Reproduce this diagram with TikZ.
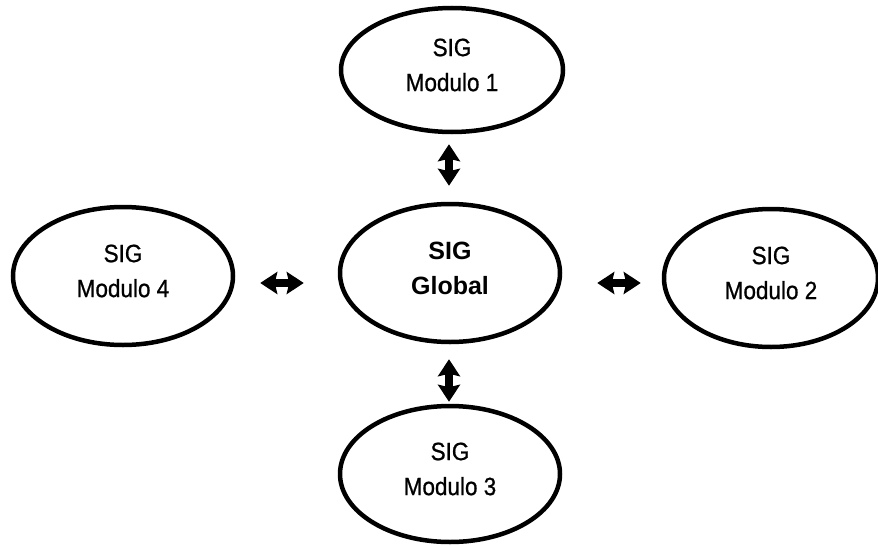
\documentclass[tikz,border=0pt]{standalone}
\usepackage{fontspec}
\setmainfont{Liberation Sans}
\newfontfamily\narrowsans{Liberation Sans}[FakeStretch=0.9,FakeBold=0.8]
\usetikzlibrary{shapes.geometric,arrows.meta}
\tikzset{
  sig/.style={ellipse, draw, line width=4.5pt, inner sep=0pt},
  sigtext/.style={yshift=5pt, align=center, inner sep=0pt,
    font=\narrowsans\fontsize{25}{35}\selectfont},
  biarrow/.style={line width=8pt,
    {Stealth[length=17pt,width=22pt,inset=2.5pt]}-{Stealth[length=17pt,width=22pt,inset=2.5pt]}}
}
\begin{document}
\begin{tikzpicture}[x=1pt,y=-1pt]
\useasboundingbox (0,0) rectangle (878,546);
\node[sig, minimum width=222pt, minimum height=124pt,
  label={[sigtext]center:SIG\\Modulo 1}] (top) at (452,70) {};
\node[sig, minimum width=220pt, minimum height=138pt,
  label={[sigtext, font=\fontsize{25}{35}\selectfont\bfseries]center:SIG\\Global}] (center) at (450,273) {};
\node[sig, minimum width=220pt, minimum height=136pt,
  label={[sigtext]center:SIG\\Modulo 3}] (bottom) at (450,474) {};
\node[sig, minimum width=220pt, minimum height=138pt,
  label={[sigtext]center:SIG\\Modulo 4}] (left) at (123,276) {};
\node[sig, minimum width=214pt, minimum height=138pt,
  label={[sigtext]center:SIG\\Modulo 2}] (right) at (771,278) {};
\coordinate (h) at (0,283);
\coordinate (v) at (449,0);
\draw[biarrow, shorten <=10pt, shorten >=16pt] (top.south -| v) -- (center.north -| v);
\draw[biarrow, shorten <=15pt, shorten >=2pt] (center.south -| v) -- (bottom.north -| v);
\draw[biarrow, shorten <=25pt, shorten >=34pt] (left.east |- h) -- (center.west |- h);
\draw[biarrow, shorten <=35pt, shorten >=21pt] (center.east |- h) -- (right.west |- h);
\end{tikzpicture}
\end{document}
